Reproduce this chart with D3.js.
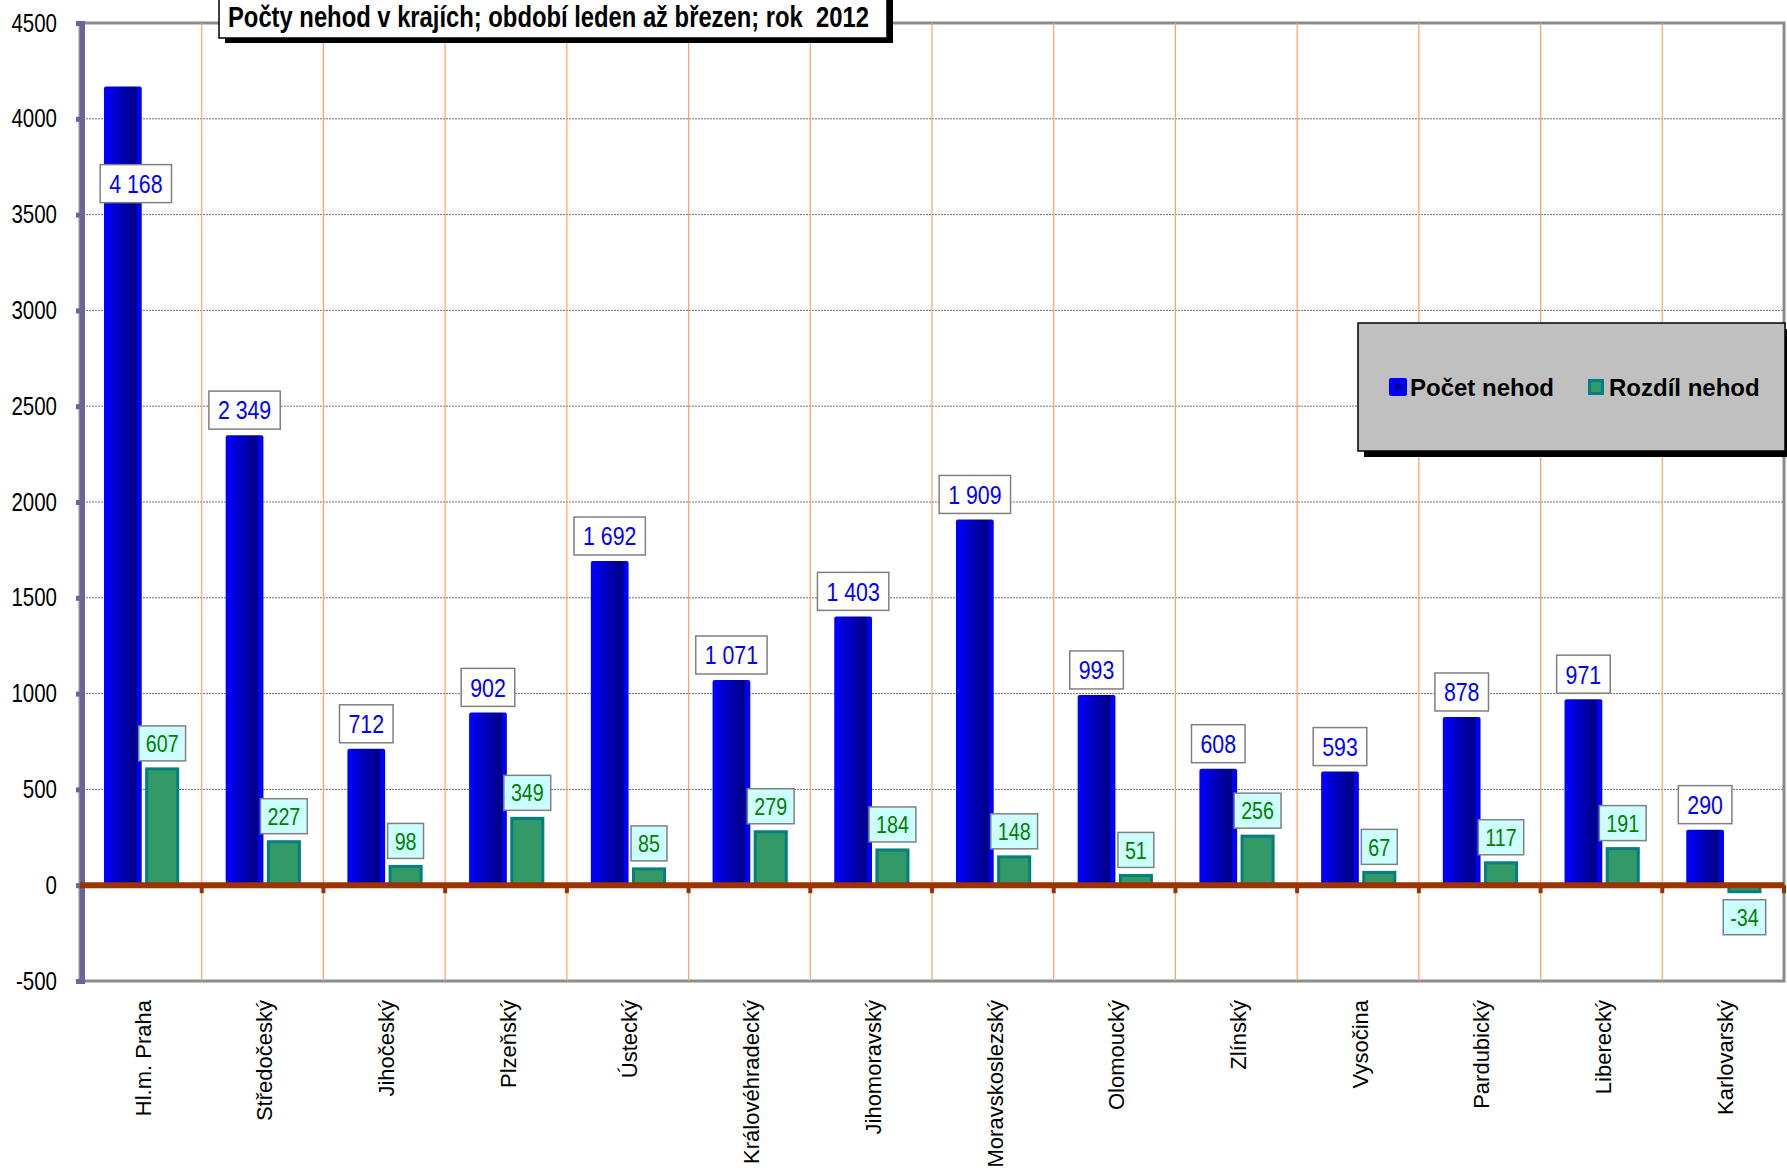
<!DOCTYPE html>
<html>
<head>
<meta charset="utf-8">
<script src="https://cdn.jsdelivr.net/npm/d3@7"></script>
<style>
body { margin: 0; background: #fff; }
svg { display: block; }
</style>
</head>
<body>
<div id="chart"></div>
<script>
const width = 1787;
const height = 1176;
const margin = {top: 23, right: 3, bottom: 195, left: 80};

const regions = ["Hl.m. Praha", "Středočeský", "Jihočeský", "Plzeňský", "Ústecký", "Královéhradecký",
    "Jihomoravský", "Moravskoslezský", "Olomoucký", "Zlínský", "Vysočina", "Pardubický", "Liberecký", "Karlovarský"];
const pocet = [4168, 2349, 712, 902, 1692, 1071, 1403, 1909, 993, 608, 593, 878, 971, 290];
const rozdil = [607, 227, 98, 349, 85, 279, 184, 148, 51, 256, 67, 117, 191, -34];
const yTicks = [-500, 0, 500, 1000, 1500, 2000, 2500, 3000, 3500, 4000, 4500];
const seriesNames = ["Počet nehod", "Rozdíl nehod"];
const title = "Počty nehod v krajích; období leden až březen; rok  2012";

const font = "'Liberation Sans', Arial, sans-serif";
// no Arial Narrow installed: squeeze Liberation Sans instead
const squeeze = 0.82;
function narrowText(sel) {
    sel.each(function() {
        const len = this.getComputedTextLength();
        d3.select(this)
            .attr("textLength", len * squeeze)
            .attr("lengthAdjust", "spacingAndGlyphs");
    });
}

const fmt = d3.formatLocale({decimal: ",", thousands: " ", grouping: [3], currency: ["", ""], minus: "-"}).format(",");

const svg = d3.select("#chart")
    .append("svg")
    .attr("width", width)
    .attr("height", height);

const defs = svg.append("defs");
const grad = defs.append("linearGradient").attr("id", "blueBar")
    .attr("x1", "0%").attr("x2", "100%").attr("y1", "0%").attr("y2", "0%");
[["0%", "#0000ff"], ["13%", "#0000ff"], ["14%", "#0000e8"], ["86%", "#000080"], ["87%", "#0000ff"], ["100%", "#0000ff"]]
    .forEach(s => grad.append("stop").attr("offset", s[0]).attr("stop-color", s[1]));

const x = d3.scaleBand()
    .domain(regions)
    .range([margin.left, width - margin.right]);
const bw = x.bandwidth();

const y = d3.scaleLinear()
    .domain([-500, 4500])
    .range([height - margin.bottom, margin.top]);

// plot area
svg.append("rect")
    .attr("x", margin.left).attr("y", y(4500))
    .attr("width", width - margin.right - margin.left)
    .attr("height", y(-500) - y(4500))
    .attr("fill", "#fff")
    .attr("stroke", "#8c8c8c")
    .attr("stroke-width", 3);

// horizontal grid
svg.append("g")
    .selectAll("line")
    .data(yTicks.filter(d => d > 0 && d < 4500))
    .join("line")
        .attr("x1", margin.left).attr("x2", width - margin.right)
        .attr("y1", d => y(d)).attr("y2", d => y(d))
        .attr("stroke", "#707070")
        .attr("stroke-width", 1)
        .attr("stroke-dasharray", "2,1");

// vertical category separators
svg.append("g")
    .selectAll("line")
    .data(regions.slice(1))
    .join("line")
        .attr("x1", d => x(d)).attr("x2", d => x(d))
        .attr("y1", y(4500)).attr("y2", y(-500))
        .attr("stroke", "#ffa066")
        .attr("stroke-width", 1.2);

// y axis
const yAxis = d3.axisLeft(y).tickValues(yTicks).tickSize(6).tickPadding(19).tickFormat(d => d);
const yg = svg.append("g")
    .attr("transform", `translate(${margin.left + 2},0)`)
    .call(yAxis);
yg.select(".domain").attr("stroke", "#666699").attr("stroke-width", 5);
yg.selectAll(".tick line").attr("stroke", "#666699").attr("stroke-width", 5);
yg.selectAll(".tick text")
    .attr("font-family", font)
    .attr("font-size", 25)
    .attr("fill", "#000")
    .call(narrowText);

// bars
const bars = svg.append("g");
bars.selectAll(".pocet")
    .data(pocet)
    .join("rect")
        .attr("class", "pocet")
        .attr("x", (d, i) => x(regions[i]) + bw * 0.197)
        .attr("width", bw * 0.31)
        .attr("y", d => y(d))
        .attr("height", d => y(0) - y(d))
        .attr("rx", 2)
        .attr("fill", "url(#blueBar)");

bars.selectAll(".rozdil")
    .data(rozdil)
    .join("rect")
        .attr("class", "rozdil")
        .attr("x", (d, i) => x(regions[i]) + bw * 0.535 + 1.5)
        .attr("width", bw * 0.28 - 3)
        .attr("y", d => y(Math.max(d, 0)))
        .attr("height", d => Math.abs(y(0) - y(d)))
        .attr("fill", "#339966")
        .attr("stroke", "#008080")
        .attr("stroke-width", 3);

// zero line with ticks
svg.append("g")
    .selectAll("rect")
    .data(regions.slice(1).concat(["end"]))
    .join("rect")
        .attr("x", d => (d === "end" ? width - margin.right : x(d)) - 2)
        .attr("y", y(0))
        .attr("width", 4)
        .attr("height", 8)
        .attr("fill", "#993300");
svg.append("line")
    .attr("x1", margin.left).attr("x2", width - margin.right)
    .attr("y1", y(0)).attr("y2", y(0))
    .attr("stroke", "#993300")
    .attr("stroke-width", 6);

// data labels
function label(g, cx, top, text, color, fill, size, boxH, pad) {
    const t = g.append("text")
        .attr("x", cx)
        .attr("y", top + boxH / 2 + size * 0.36)
        .attr("text-anchor", "middle")
        .attr("font-family", font)
        .attr("font-size", size)
        .attr("fill", color)
        .text(text);
    const w = t.node().getComputedTextLength() * squeeze + pad;
    t.call(narrowText);
    g.insert("rect", "text")
        .attr("x", cx - w / 2)
        .attr("y", top)
        .attr("width", w)
        .attr("height", boxH)
        .attr("fill", fill)
        .attr("stroke", "#808080")
        .attr("stroke-width", 1.5);
}

pocet.forEach((d, i) => {
    const g = svg.append("g");
    let cx = x(regions[i]) + bw * 0.197 + bw * 0.155;
    let top = y(d) - 6 - 38;
    if (d > 4000) { top = y(d) + 78; cx += 13; }
    label(g, cx, top, fmt(d), "#0000ff", "#ffffff", 26, 38, 18);
});

rozdil.forEach((d, i) => {
    const g = svg.append("g");
    const cx = x(regions[i]) + bw * 0.535 + bw * 0.14;
    const top = d >= 0 ? y(d) - 8 - 35 : y(d) + 8;
    label(g, cx, top, fmt(d), "#008000", "#ccffff", 24, 35, 14);
});

// category labels
svg.append("g")
    .selectAll("text")
    .data(regions)
    .join("text")
        .attr("transform", d => `translate(${x(d) + bw / 2 + 2},1000) rotate(-90)`)
        .attr("text-anchor", "end")
        .attr("dy", "0.35em")
        .attr("font-family", font)
        .attr("font-size", 22)
        .attr("fill", "#000")
        .text(d => d);

// title
const tg = svg.append("g");
tg.append("rect")
    .attr("x", 225).attr("y", -5).attr("width", 668).attr("height", 48)
    .attr("fill", "#000");
tg.append("rect")
    .attr("x", 219).attr("y", -10).attr("width", 668).attr("height", 48)
    .attr("fill", "#fff")
    .attr("stroke", "#000")
    .attr("stroke-width", 1.5);
tg.append("text")
    .attr("x", 228).attr("y", 27)
    .attr("font-family", font)
    .attr("font-weight", "bold")
    .attr("font-size", 29)
    .style("white-space", "pre")
    .text(title)
    .call(narrowText);

// legend
const lg = svg.append("g").attr("class", "legend");
lg.append("rect")
    .attr("x", 1364).attr("y", 329).attr("width", 427).attr("height", 128)
    .attr("fill", "#000");
lg.append("rect")
    .attr("x", 1358).attr("y", 323).attr("width", 427).attr("height", 128)
    .attr("fill", "#c0c0c0")
    .attr("stroke", "#000")
    .attr("stroke-width", 1.5);

const legendX = [1389, 1588];
seriesNames.forEach((name, i) => {
    if (i === 0) {
        lg.append("rect")
            .attr("x", legendX[i]).attr("y", 378).attr("width", 18).attr("height", 18)
            .attr("rx", 2).attr("fill", "#0000ff");
        lg.append("rect")
            .attr("x", legendX[i] + 6).attr("y", 384).attr("width", 6).attr("height", 6)
            .attr("fill", "#000080");
    } else {
        lg.append("rect")
            .attr("x", legendX[i] + 1.5).attr("y", 380.5).attr("width", 13).attr("height", 13)
            .attr("fill", "#339966").attr("stroke", "#008080").attr("stroke-width", 3);
    }
    lg.append("text")
        .attr("x", legendX[i] + 21)
        .attr("y", 396)
        .attr("font-family", font)
        .attr("font-weight", "bold")
        .attr("font-size", 24)
        .attr("fill", "#000")
        .text(name);
});
</script>
</body>
</html>
